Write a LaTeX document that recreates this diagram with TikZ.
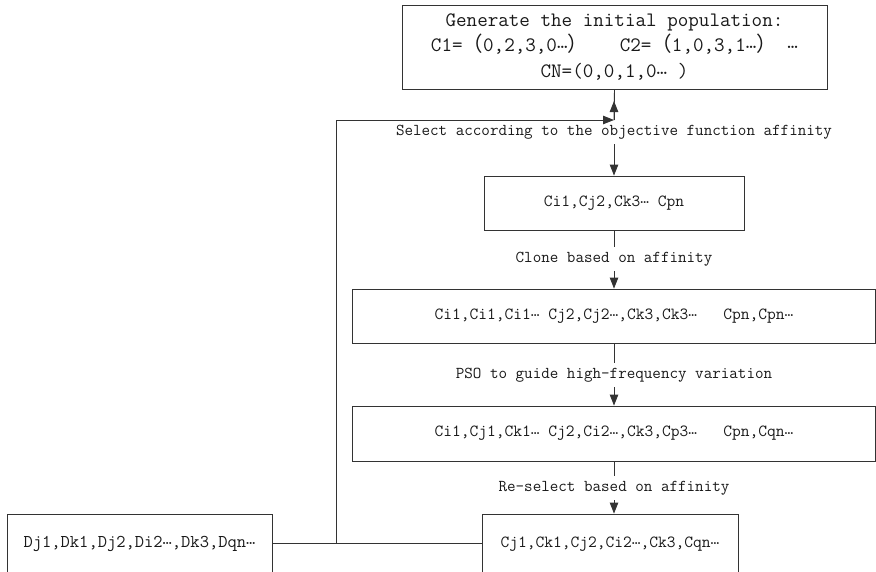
\documentclass[tikz,border=0pt]{standalone}
\usepackage{fontspec}
\newfontfamily\cjk{Noto Sans CJK SC}
\usepackage{tikz}
\usetikzlibrary{arrows.meta,positioning,calc}

\newcommand{\dt}{\raisebox{.35ex}{…}}
\newcommand{\fp}[1]{{\cjk #1}}

\begin{document}
\begin{tikzpicture}[
  x=1pt, y=-1pt,
  line width=0.9pt, draw=black!80, text=black!90,
  box/.style={draw, inner sep=0pt, align=center,
    font=\ttfamily\fontsize{17}{20}\selectfont},
  lbl/.style={inner sep=0pt, minimum height=24pt,
    font=\ttfamily\fontsize{16.6}{19}\selectfont},
  arr/.style={-{Triangle[length=11pt,width=8.5pt]}}
]
\useasboundingbox (0,0) rectangle (876,571);

% population and selection
\node[box, minimum width=425, minimum height=84,
  font=\ttfamily\fontsize{20.5}{25.5}\selectfont] (init) at (614.5,47)
  {Generate the initial population:\\
   C1=\fp{（}0,2,3,0\dt\fp{）}~~~C2=\fp{（}1,0,3,1\dt\fp{）}~\dt\\
   CN=(0,0,1,0\dt~)};
\node[lbl] (lblSel) at (614,132) {Select according to the objective function affinity};
\node[box, minimum width=260, minimum height=54] (best) at (614,203)
  {Ci1,Cj2,Ck3\dt~Cpn};

% clone and mutation
\node[lbl] (lblClone) at (614,259) {Clone based on affinity};
\node[box, minimum width=523, minimum height=54] (clone) at (614,316)
  {Ci1,Ci1,Ci1\dt~Cj2,Cj2\dt,Ck3,Ck3\dt~~~Cpn,Cpn\dt};
\node[lbl] (lblPSO) at (614,375) {PSO to guide high-frequency variation};
\node[box, minimum width=523, minimum height=55] (mut) at (614,433.5)
  {Ci1,Cj1,Ck1\dt~Cj2,Ci2\dt,Ck3,Cp3\dt~~~Cpn,Cqn\dt};

% reselection and feedback
\node[lbl] (lblRe) at (614,488) {Re-select based on affinity};
\node[box, minimum width=256, minimum height=60] (resel) at (610,544)
  {Cj1,Ck1,Cj2,Ci2\dt,Ck3,Cqn\dt};
\node[box, minimum width=265, minimum height=60,
  font=\ttfamily\fontsize{18}{20}\selectfont] (dbox) at (139.5,544)
  {Dj1,Dk1,Dj2,Di2\dt,Dk3,Dqn\dt};

\coordinate (j1) at (336,543);
\coordinate (j2) at (614,120);
\coordinate (tipUp) at (614,101);

\draw (init.south) -- (j2);
\draw[arr] (j2) -- (tipUp);
\draw[arr] (lblSel) -- (best);
\draw (best) -- (lblClone);
\draw[arr] (lblClone) -- (clone);
\draw (clone) -- (lblPSO);
\draw[arr] (lblPSO) -- (mut);
\draw (mut) -- (lblRe);
\draw[arr] (lblRe) -- (resel.north -| lblRe);
\draw (dbox.east |- j1) -- (resel.west |- j1);
\draw[arr] (j1) |- (j2);
\end{tikzpicture}
\end{document}
